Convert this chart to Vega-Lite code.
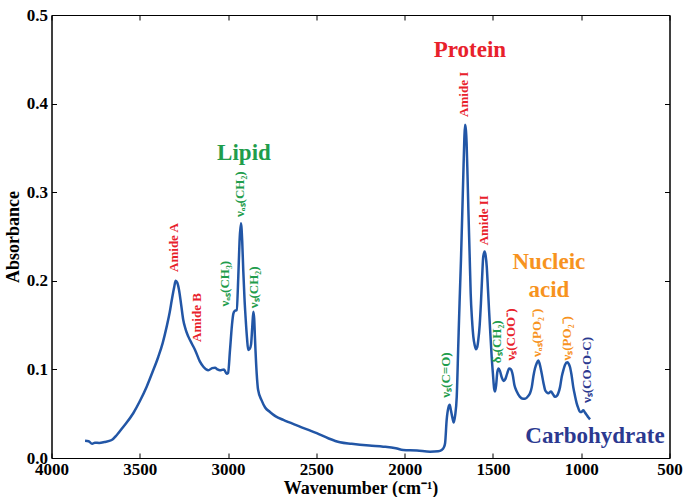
{
  "$schema": "https://vega.github.io/schema/vega-lite/v6.json",
  "width": 618,
  "height": 443,
  "autosize": "none",
  "padding": {"left": 51.5, "top": 15, "right": 14.5, "bottom": 39},
  "background": "white",
  "config": {
    "view": {"stroke": "black", "strokeWidth": 1},
    "axis": {
      "grid": false,
      "domainColor": "black",
      "tickColor": "black",
      "labelColor": "black",
      "titleColor": "black",
      "labelFont": "Liberation Serif, Times New Roman, serif",
      "titleFont": "Liberation Serif, Times New Roman, serif",
      "labelFontWeight": "bold",
      "titleFontWeight": "bold",
      "labelFontSize": 17,
      "titleFontSize": 18,
      "tickSize": -5,
      "labelOverlap": false,
      "labelFlush": false
    }
  },
  "datasets": {
    "spectrum": [
      {"w": 3810, "a": 0.0195}, {"w": 3790, "a": 0.019}, {"w": 3770, "a": 0.016}, {"w": 3754, "a": 0.0173},
      {"w": 3730, "a": 0.017}, {"w": 3700, "a": 0.018}, {"w": 3659, "a": 0.0203}, {"w": 3630, "a": 0.026},
      {"w": 3593, "a": 0.0353}, {"w": 3537, "a": 0.0505}, {"w": 3500, "a": 0.064}, {"w": 3461, "a": 0.0805},
      {"w": 3430, "a": 0.096}, {"w": 3395, "a": 0.1143}, {"w": 3370, "a": 0.13}, {"w": 3348, "a": 0.148},
      {"w": 3330, "a": 0.165}, {"w": 3319, "a": 0.178}, {"w": 3305, "a": 0.193}, {"w": 3297, "a": 0.2},
      {"w": 3288, "a": 0.198}, {"w": 3278, "a": 0.19}, {"w": 3265, "a": 0.172}, {"w": 3254, "a": 0.156},
      {"w": 3240, "a": 0.145}, {"w": 3225, "a": 0.137}, {"w": 3205, "a": 0.129}, {"w": 3187, "a": 0.122},
      {"w": 3160, "a": 0.109}, {"w": 3140, "a": 0.103}, {"w": 3112, "a": 0.099}, {"w": 3090, "a": 0.1015},
      {"w": 3074, "a": 0.102}, {"w": 3060, "a": 0.1}, {"w": 3046, "a": 0.099}, {"w": 3023, "a": 0.1},
      {"w": 3008, "a": 0.095}, {"w": 3000, "a": 0.096}, {"w": 2989, "a": 0.122}, {"w": 2978, "a": 0.15},
      {"w": 2970, "a": 0.163}, {"w": 2962, "a": 0.166}, {"w": 2951, "a": 0.167}, {"w": 2942, "a": 0.205},
      {"w": 2935, "a": 0.245}, {"w": 2927, "a": 0.265}, {"w": 2920, "a": 0.245}, {"w": 2914, "a": 0.212},
      {"w": 2907, "a": 0.18}, {"w": 2900, "a": 0.156}, {"w": 2893, "a": 0.136}, {"w": 2886, "a": 0.122},
      {"w": 2878, "a": 0.123}, {"w": 2870, "a": 0.128}, {"w": 2863, "a": 0.148}, {"w": 2857, "a": 0.165},
      {"w": 2852, "a": 0.157}, {"w": 2848, "a": 0.137}, {"w": 2838, "a": 0.0956}, {"w": 2830, "a": 0.077},
      {"w": 2810, "a": 0.065}, {"w": 2790, "a": 0.057}, {"w": 2763, "a": 0.052}, {"w": 2730, "a": 0.047},
      {"w": 2687, "a": 0.043}, {"w": 2600, "a": 0.036}, {"w": 2498, "a": 0.028}, {"w": 2430, "a": 0.022},
      {"w": 2366, "a": 0.0177}, {"w": 2300, "a": 0.016}, {"w": 2200, "a": 0.014}, {"w": 2121, "a": 0.0128},
      {"w": 2050, "a": 0.011}, {"w": 2008, "a": 0.009}, {"w": 1930, "a": 0.0085}, {"w": 1856, "a": 0.0071},
      {"w": 1810, "a": 0.0075}, {"w": 1790, "a": 0.009}, {"w": 1778, "a": 0.012}, {"w": 1771, "a": 0.0166},
      {"w": 1762, "a": 0.043}, {"w": 1752, "a": 0.057}, {"w": 1745, "a": 0.06}, {"w": 1738, "a": 0.054},
      {"w": 1730, "a": 0.046}, {"w": 1722, "a": 0.04}, {"w": 1714, "a": 0.048}, {"w": 1705, "a": 0.069},
      {"w": 1696, "a": 0.129}, {"w": 1689, "a": 0.175}, {"w": 1681, "a": 0.2235}, {"w": 1668, "a": 0.3175},
      {"w": 1662, "a": 0.36}, {"w": 1658, "a": 0.376}, {"w": 1653, "a": 0.37}, {"w": 1649, "a": 0.355},
      {"w": 1644, "a": 0.32}, {"w": 1639, "a": 0.28}, {"w": 1632, "a": 0.23}, {"w": 1626, "a": 0.186},
      {"w": 1618, "a": 0.155}, {"w": 1611, "a": 0.137}, {"w": 1603, "a": 0.127}, {"w": 1596, "a": 0.1227},
      {"w": 1589, "a": 0.125}, {"w": 1583, "a": 0.133}, {"w": 1575, "a": 0.15}, {"w": 1568, "a": 0.1746},
      {"w": 1561, "a": 0.205}, {"w": 1555, "a": 0.227}, {"w": 1547, "a": 0.233}, {"w": 1541, "a": 0.228},
      {"w": 1535, "a": 0.216}, {"w": 1528, "a": 0.19}, {"w": 1522, "a": 0.167}, {"w": 1514, "a": 0.138},
      {"w": 1507, "a": 0.114}, {"w": 1500, "a": 0.095}, {"w": 1493, "a": 0.078}, {"w": 1488, "a": 0.075},
      {"w": 1482, "a": 0.082}, {"w": 1475, "a": 0.097}, {"w": 1468, "a": 0.101}, {"w": 1460, "a": 0.098},
      {"w": 1450, "a": 0.091}, {"w": 1440, "a": 0.087}, {"w": 1430, "a": 0.089}, {"w": 1420, "a": 0.095},
      {"w": 1408, "a": 0.101}, {"w": 1398, "a": 0.1}, {"w": 1388, "a": 0.094}, {"w": 1378, "a": 0.082},
      {"w": 1365, "a": 0.075}, {"w": 1347, "a": 0.069}, {"w": 1330, "a": 0.067}, {"w": 1318, "a": 0.067},
      {"w": 1300, "a": 0.07}, {"w": 1290, "a": 0.073}, {"w": 1280, "a": 0.08}, {"w": 1271, "a": 0.092},
      {"w": 1262, "a": 0.101}, {"w": 1252, "a": 0.107}, {"w": 1243, "a": 0.11}, {"w": 1235, "a": 0.106},
      {"w": 1224, "a": 0.0956}, {"w": 1214, "a": 0.085}, {"w": 1205, "a": 0.077}, {"w": 1195, "a": 0.074},
      {"w": 1186, "a": 0.073}, {"w": 1171, "a": 0.075}, {"w": 1160, "a": 0.072}, {"w": 1148, "a": 0.069},
      {"w": 1138, "a": 0.07}, {"w": 1130, "a": 0.073}, {"w": 1120, "a": 0.08}, {"w": 1110, "a": 0.092},
      {"w": 1100, "a": 0.1}, {"w": 1092, "a": 0.105}, {"w": 1079, "a": 0.108}, {"w": 1070, "a": 0.106},
      {"w": 1064, "a": 0.103}, {"w": 1055, "a": 0.094}, {"w": 1045, "a": 0.08}, {"w": 1035, "a": 0.07},
      {"w": 1026, "a": 0.062}, {"w": 1016, "a": 0.056}, {"w": 1007, "a": 0.052}, {"w": 998, "a": 0.052},
      {"w": 988, "a": 0.054}, {"w": 978, "a": 0.051}, {"w": 969, "a": 0.0485}, {"w": 960, "a": 0.046},
      {"w": 950, "a": 0.0437}
    ],
    "peaks": [
      {"w": 3306, "a": 0.21, "label": "Amide A", "group": "Protein"},
      {"w": 3175, "a": 0.131, "label": "Amide B", "group": "Protein"},
      {"w": 3020, "a": 0.171, "label": "νₐₛ(CH₃)", "group": "Lipid"},
      {"w": 2935, "a": 0.272, "label": "νₐₛ(CH₂)", "group": "Lipid"},
      {"w": 2852, "a": 0.169, "label": "νₛ(CH₂)", "group": "Lipid"},
      {"w": 1766, "a": 0.068, "label": "νₛ(C=O)", "group": "Lipid"},
      {"w": 1664, "a": 0.385, "label": "Amide I", "group": "Protein"},
      {"w": 1551, "a": 0.24, "label": "Amide II", "group": "Protein"},
      {"w": 1477, "a": 0.107, "label": "δₛ(CH₂)", "group": "Lipid"},
      {"w": 1398, "a": 0.11, "label": "νₛ(COO⁻)", "group": "Protein"},
      {"w": 1249, "a": 0.114, "label": "νₐₛ(PO₂⁻)", "group": "Nucleic acid"},
      {"w": 1082, "a": 0.11, "label": "νₛ(PO₂⁻)", "group": "Nucleic acid"},
      {"w": 967, "a": 0.062, "label": "νₛ(CO-O-C)", "group": "Carbohydrate"}
    ],
    "groups": [
      {"w": 1630, "a": 0.46, "label": "Protein", "group": "Protein"},
      {"w": 2910, "a": 0.344, "label": "Lipid", "group": "Lipid"},
      {"w": 1183, "a": 0.221, "label": "Nucleic\nacid", "group": "Nucleic acid"},
      {"w": 922, "a": 0.025, "label": "Carbohydrate", "group": "Carbohydrate"}
    ]
  },
  "resolve": {"axis": {"x": "independent", "y": "independent"}},
  "layer": [
    {
      "data": {"name": "spectrum"},
      "mark": {"type": "line", "color": "#2256a6", "strokeWidth": 2.5, "interpolate": "monotone"},
      "encoding": {
        "x": {
          "field": "w", "type": "quantitative",
          "scale": {"domain": [500, 4000], "reverse": true, "nice": false},
          "axis": {
            "values": [4000, 3500, 3000, 2500, 2000, 1500, 1000, 500],
            "format": "d", "labelPadding": 8,
            "title": "Wavenumber (cm⁻¹)", "titleX": 309, "titleY": 30, "titleBaseline": "middle"
          }
        },
        "y": {
          "field": "a", "type": "quantitative",
          "scale": {"domain": [0, 0.5], "nice": false},
          "axis": {
            "values": [0, 0.1, 0.2, 0.3, 0.4, 0.5],
            "format": ".1f", "labelPadding": 9,
            "title": "Absorbance", "titleX": -38, "titleY": 221.5,
            "titleAlign": "center", "titleBaseline": "middle", "titleAngle": -90
          }
        }
      }
    },
    {
      "data": {"name": "spectrum"},
      "mark": {"type": "line", "opacity": 0},
      "encoding": {
        "x": {
          "field": "w", "type": "quantitative",
          "axis": {"orient": "top", "labels": false, "title": null, "values": [4000, 3500, 3000, 2500, 2000, 1500, 1000, 500]}
        },
        "y": {
          "field": "a", "type": "quantitative",
          "axis": {"orient": "right", "labels": false, "title": null, "values": [0, 0.1, 0.2, 0.3, 0.4, 0.5]}
        }
      }
    },
    {
      "data": {"name": "peaks"},
      "mark": {"type": "text", "angle": -90, "align": "left", "baseline": "middle", "font": "Liberation Serif, Times New Roman, serif", "fontWeight": "bold", "fontSize": 13},
      "encoding": {
        "x": {"field": "w", "type": "quantitative", "axis": null},
        "y": {"field": "a", "type": "quantitative", "axis": null},
        "text": {"field": "label"},
        "color": {
          "field": "group", "type": "nominal", "legend": null,
          "scale": {"domain": ["Protein", "Lipid", "Nucleic acid", "Carbohydrate"], "range": ["#e8212b", "#1f9d4c", "#f7931e", "#2b3990"]}
        }
      }
    },
    {
      "data": {"name": "groups"},
      "mark": {"type": "text", "align": "center", "baseline": "middle", "font": "Liberation Serif, Times New Roman, serif", "fontWeight": "bold", "fontSize": 23, "lineBreak": "\n", "lineHeight": 28},
      "encoding": {
        "x": {"field": "w", "type": "quantitative", "axis": null},
        "y": {"field": "a", "type": "quantitative", "axis": null},
        "text": {"field": "label"},
        "color": {"field": "group", "type": "nominal", "legend": null}
      }
    }
  ]
}
